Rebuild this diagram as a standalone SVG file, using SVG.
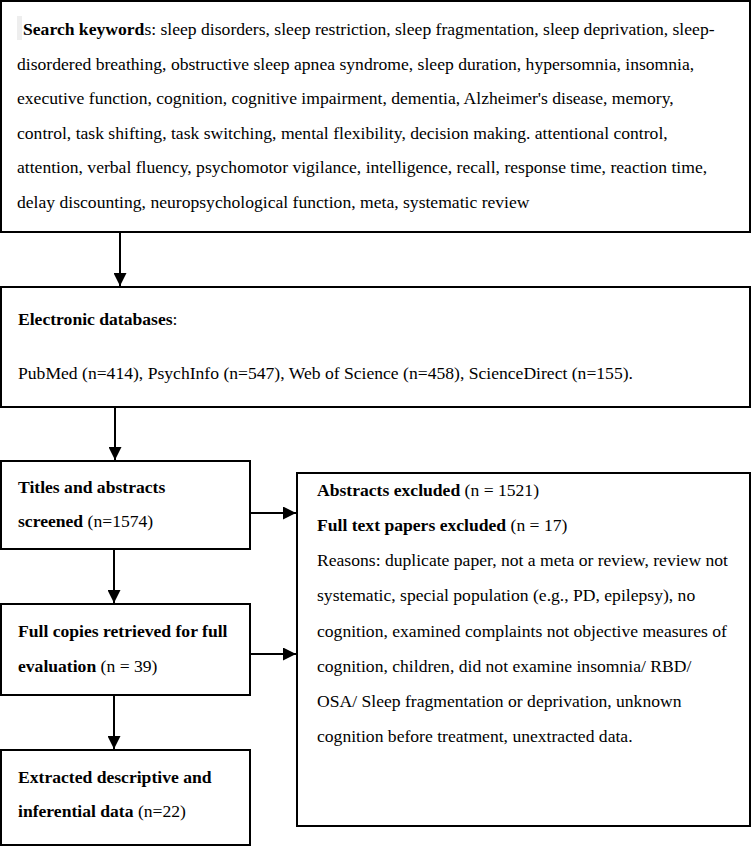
<svg xmlns="http://www.w3.org/2000/svg" width="751" height="846" viewBox="0 0 751 846">
<style>
  .box { fill: #ffffff; stroke: #000000; stroke-width: 2; }
  .t { font-family: "Liberation Serif", "Times New Roman", serif; font-size: 17.6px; fill: #000000; }
  .b { font-weight: bold; }
  .conn { stroke: #000000; stroke-width: 2; fill: none; }
</style>
<defs>
  <marker id="ah" markerUnits="userSpaceOnUse" markerWidth="13" markerHeight="13" viewBox="0 0 12 12" refX="12" refY="6" orient="auto">
    <path d="M0,0 L12,6 L0,12 Z" fill="#000000"/>
  </marker>
</defs>
<rect x="0" y="0" width="751" height="846" fill="#ffffff"/>

<g id="search">
  <rect class="box" x="1" y="1" width="749" height="231"/>
  <rect x="17" y="16" width="5" height="24" fill="#eeeeee"/>
  <text class="t" x="23" y="35"><tspan class="b">Search keyword</tspan>s: sleep disorders, sleep restriction, sleep fragmentation, sleep deprivation, sleep-</text>
  <text class="t" x="17" y="69.6">disordered breathing, obstructive sleep apnea syndrome, sleep duration, hypersomnia, insomnia,</text>
  <text class="t" x="17" y="104.2">executive function, cognition, cognitive impairment, dementia, Alzheimer's disease, memory,</text>
  <text class="t" x="17" y="138.8">control, task shifting, task switching, mental flexibility, decision making. attentional control,</text>
  <text class="t" x="17" y="173.4">attention, verbal fluency, psychomotor vigilance, intelligence, recall, response time, reaction time,</text>
  <text class="t" x="17" y="208">delay discounting, neuropsychological function, meta, systematic review</text>
</g>

<g id="databases">
  <rect class="box" x="1" y="287" width="749" height="120"/>
  <text class="t" x="18" y="325"><tspan class="b">Electronic databases</tspan>:</text>
  <text class="t" x="18" y="379">PubMed (n=414), PsychInfo (n=547), Web of Science (n=458), ScienceDirect (n=155).</text>
</g>

<g id="screened">
  <rect class="box" x="1" y="461" width="249" height="88"/>
  <text class="t" x="18" y="493"><tspan class="b">Titles and abstracts</tspan></text>
  <text class="t" x="18" y="527"><tspan class="b">screened</tspan> (n=1574)</text>
</g>

<g id="fullcopies">
  <rect class="box" x="1" y="604" width="249" height="91"/>
  <text class="t" x="18" y="637"><tspan class="b">Full copies retrieved for full</tspan></text>
  <text class="t" x="18" y="672"><tspan class="b">evaluation</tspan> (n = 39)</text>
</g>

<g id="extracted">
  <rect class="box" x="1" y="750" width="249" height="95"/>
  <text class="t" x="18" y="783"><tspan class="b">Extracted descriptive and</tspan></text>
  <text class="t" x="18" y="817"><tspan class="b">inferential data</tspan> (n=22)</text>
</g>

<g id="excluded">
  <rect class="box" x="297" y="473" width="453" height="353"/>
  <text class="t" x="317" y="496"><tspan class="b">Abstracts excluded</tspan> (n = 1521)</text>
  <text class="t" x="317" y="531"><tspan class="b">Full text papers excluded</tspan> (n = 17)</text>
  <text class="t" x="317" y="566">Reasons: duplicate paper, not a meta or review, review not</text>
  <text class="t" x="317" y="601">systematic, special population (e.g., PD, epilepsy), no</text>
  <text class="t" x="317" y="637">cognition, examined complaints not objective measures of</text>
  <text class="t" x="317" y="672">cognition, children, did not examine insomnia/ RBD/</text>
  <text class="t" x="317" y="707">OSA/ Sleep fragmentation or deprivation, unknown</text>
  <text class="t" x="317" y="742">cognition before treatment, unextracted data.</text>
</g>

<g id="connectors">
  <line class="conn" x1="120" y1="232" x2="120" y2="286" marker-end="url(#ah)"/>
  <line class="conn" x1="115" y1="407" x2="115" y2="460" marker-end="url(#ah)"/>
  <line class="conn" x1="114" y1="549" x2="114" y2="603" marker-end="url(#ah)"/>
  <line class="conn" x1="114" y1="695" x2="114" y2="749" marker-end="url(#ah)"/>
  <line class="conn" x1="250" y1="513" x2="296" y2="513" marker-end="url(#ah)"/>
  <line class="conn" x1="250" y1="654" x2="296" y2="654" marker-end="url(#ah)"/>
</g>
</svg>
